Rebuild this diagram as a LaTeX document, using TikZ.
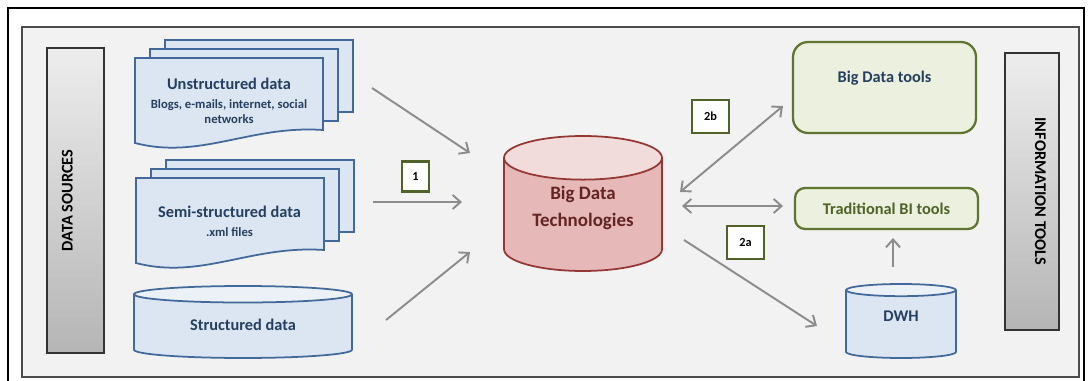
\documentclass[tikz,border=0pt]{standalone}
\usepackage{fontspec}
\setmainfont{Carlito}
\usetikzlibrary{calc,positioning,arrows.meta,shapes.geometric,shadows}

\definecolor{panel}{HTML}{F2F2F2}
\definecolor{docfill}{HTML}{DCE6F2}
\definecolor{docline}{HTML}{41699B}
\definecolor{doctext}{HTML}{243F60}
\definecolor{bdtbody}{HTML}{E6B9B8}
\definecolor{bdttop}{HTML}{F2DCDB}
\definecolor{bdtline}{HTML}{953735}
\definecolor{bdttext}{HTML}{632523}
\definecolor{toolfill}{HTML}{EBF1DE}
\definecolor{toolline}{HTML}{5F7530}
\definecolor{tooltext}{HTML}{4F6228}
\definecolor{flowgray}{HTML}{8C8C8C}

\newcommand\subtxt{\fontsize{7.2}{8.6}\selectfont}

\begin{document}
\begin{tikzpicture}[
x=0.02cm,
y=-0.02cm,
>={Straight Barb[length=4.5pt,width=8pt]},
page/.style={
	draw=docline,
	fill=docfill,
	line width=1pt
},
doctitle/.style={
	minimum width=3.76cm,
	minimum height=1.7cm,
	inner sep=0pt,
	align=center,
	text=doctext,
	font=\fontsize{9.3}{11}\selectfont\bfseries
},
store/.style={
	cylinder,
	shape border rotate=90,
	anchor=shape center,
	inner sep=0pt,
	line width=1pt,
	draw=docline,
	cylinder uses custom fill,
	cylinder body fill=docfill,
	cylinder end fill=docfill!55!white,
	text=doctext,
	font=\fontsize{9.3}{11}\selectfont\bfseries
},
bar/.style={
	draw=black!80,
	line width=0.8pt,
	inner sep=0pt,
	top color=gray!14,
	bottom color=gray!58,
	text height=6pt,
	text depth=9.4pt,
	font=\fontsize{9.3}{11}\selectfont\bfseries
},
tool/.style={
	draw=toolline,
	fill=toolfill,
	line width=1.3pt,
	rounded corners=0.3cm,
	minimum width=3.66cm,
	font=\fontsize{9.3}{11}\selectfont\bfseries
},
numbox/.style={
	draw=tooltext,
	fill=white,
	line width=1.3pt,
	minimum width=0.54cm,
	minimum height=0.6cm,
	inner sep=0pt,
	font=\fontsize{7}{8}\selectfont\bfseries
},
flow/.style={
	draw=flowgray,
	line width=1.1pt
}
]
\useasboundingbox (0,0) rectangle (1091,381);

% frame and panel
\draw[line width=1.6pt] (8,8) rectangle (1084,384);
\draw[fill=panel,draw=black!70,line width=1.1pt] (22,27) rectangle (1079,377);

% side bars
\node[bar,rotate=90,minimum width=6.1cm,minimum height=1.14cm]
	(src) at (75.5,200.5) {DATA SOURCES};
\node[bar,rotate=-90,minimum width=5.54cm,minimum height=1.08cm]
	(info) at (1032,191.5) {INFORMATION TOOLS};

% document stacks
\foreach \x/\y in {135/58,136/178}{
	\foreach \d in {30,15}
	\draw[page] (\x+\d,\y-0.6*\d) rectangle (\x+188+\d,\y+72-0.6*\d);
	\draw[page] (\x,\y) -- (\x+188,\y) -- (\x+188,\y+72)
	.. controls (\x+115,\y+67) and (\x+65,\y+102) .. (\x,\y+85) -- cycle;
}
\node[doctitle] (unstr) at (229,100.5) {Unstructured data\\
	{\subtxt Blogs, e-mails, internet, social}\\[-2.5pt]
	{\subtxt networks}};
\node[doctitle] (semi) at (229.5,221.5) {Semi-structured data\\
	{\subtxt .xml files}};

\node[store,minimum width=4.36cm,minimum height=1.44cm,aspect=0.156,text depth=2pt]
	(struct) at (243,322) {Structured data};
\node[store,minimum width=3.16cm,minimum height=2.7cm,aspect=0.43,
	draw=bdtline,cylinder body fill=bdtbody,cylinder end fill=bdttop,
	text=bdttext,font=\fontsize{10.8}{15.5}\selectfont\bfseries,align=center,
	text depth=10pt]
	(bdt) at (583,203.5) {Big Data\\Technologies};
\node[store,minimum width=2.2cm,minimum height=1.48cm,aspect=0.345,text depth=9pt]
	(dwh) at (901,321) {DWH};

% tools
\node[tool,minimum height=1.82cm,text=doctext,text height=0.25cm,text depth=0.45cm]
	(bdtools) at (884.5,87.5) {Big Data tools};
\node[tool,minimum height=0.82cm,rounded corners=0.2cm,text=tooltext]
	(tbi) at (886.5,208.5) {Traditional BI tools};

% flows
\draw[flow,->] ([shift={(143,-12.5)}]unstr.center) -- ([shift={(-113,-50.5)}]bdt.shape center);
\draw[flow,->] ([shift={(143,-19.5)}]semi.center) -- ([shift={(-121,-1.5)}]bdt.shape center);
\draw[flow,->] ([shift={(143,-2)}]struct.shape center) -- ([shift={(-113,48.5)}]bdt.shape center);
\draw[flow,<->] ([shift={(97,-11.5)}]bdt.shape center) -- ([shift={(-101.5,18.5)}]bdtools.center);
\draw[flow,<->] ([shift={(99,2.5)}]bdt.shape center) -- ([shift={(-103.5,-2.5)}]tbi.center);
\draw[flow,->] ([shift={(101,36.5)}]bdt.shape center) -- ([shift={(-84,5)}]dwh.shape center);
\draw[flow,->] ([shift={(-8,-54)}]dwh.shape center) -- ([shift={(6.5,29.5)}]tbi.center);

% step numbers
\node[numbox] (n1) at (415.5,176.5) {1};
\node[numbox,minimum width=0.74cm,minimum height=0.66cm] (n2b) at (710.5,116.5) {2b};
\node[numbox,minimum width=0.74cm,minimum height=0.66cm] (n2a) at (745.5,242.5) {2a};
\end{tikzpicture}
\end{document}
